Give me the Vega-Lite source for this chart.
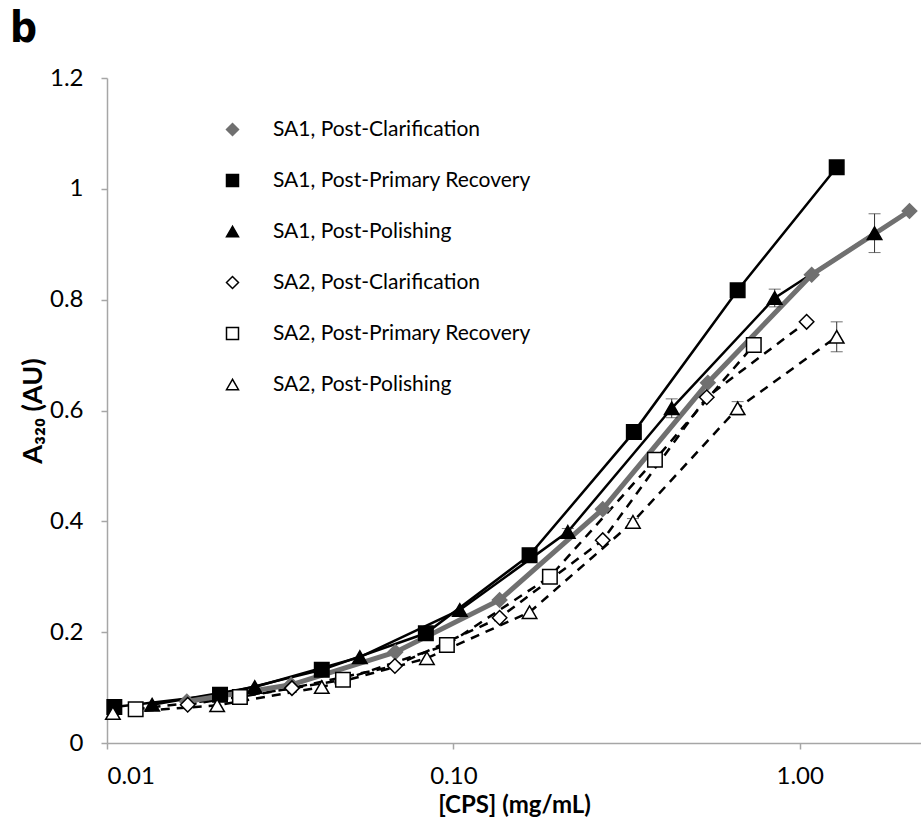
{
  "$schema": "https://vega.github.io/schema/vega-lite/v6.json",
  "autosize": {"type": "none"},
  "width": 814,
  "height": 665,
  "padding": {"left": 107, "top": 78, "right": 0, "bottom": 91},
  "background": "white",
  "title": {"text": "b", "anchor": "start", "frame": "group", "font": "Liberation Sans Narrow, DejaVu Sans Condensed, DejaVu Sans", "fontSize": 42, "fontWeight": "bold", "color": "black", "dx": -97, "offset": 15},
  "config": {
    "view": {"stroke": null},
    "axis": {"domainColor": "#a6a6a6", "domainWidth": 1.5, "tickColor": "#a6a6a6", "tickWidth": 1.5, "tickSize": 6, "grid": false, "labelFont": "Lato", "labelFontSize": 24, "labelColor": "black", "titleFont": "Lato", "titleFontSize": 24, "titleFontWeight": "bold", "titleColor": "black"},
    "legend": {"labelFont": "Lato", "labelFontSize": 21, "labelColor": "black", "labelLimit": 0, "symbolSize": 144, "rowPadding": 29, "labelOffset": 30, "padding": 0}
  },
  "data": {"values": [
    {"series": "SA1, Post-Clarification", "cps": 0.017, "a320": 0.075, "err": 0},
    {"series": "SA1, Post-Clarification", "cps": 0.034, "a320": 0.105, "err": 0},
    {"series": "SA1, Post-Clarification", "cps": 0.068, "a320": 0.164, "err": 0},
    {"series": "SA1, Post-Clarification", "cps": 0.136, "a320": 0.258, "err": 0},
    {"series": "SA1, Post-Clarification", "cps": 0.27, "a320": 0.422, "err": 0},
    {"series": "SA1, Post-Clarification", "cps": 0.543, "a320": 0.65, "err": 0},
    {"series": "SA1, Post-Clarification", "cps": 1.083, "a320": 0.845, "err": 0},
    {"series": "SA1, Post-Clarification", "cps": 2.075, "a320": 0.96, "err": 0},
    {"series": "SA1, Post-Primary Recovery", "cps": 0.0105, "a320": 0.065, "err": 0},
    {"series": "SA1, Post-Primary Recovery", "cps": 0.0212, "a320": 0.087, "err": 0},
    {"series": "SA1, Post-Primary Recovery", "cps": 0.0417, "a320": 0.132, "err": 0},
    {"series": "SA1, Post-Primary Recovery", "cps": 0.0833, "a320": 0.198, "err": 0},
    {"series": "SA1, Post-Primary Recovery", "cps": 0.166, "a320": 0.339, "err": 0},
    {"series": "SA1, Post-Primary Recovery", "cps": 0.332, "a320": 0.561, "err": 0},
    {"series": "SA1, Post-Primary Recovery", "cps": 0.662, "a320": 0.817, "err": 0},
    {"series": "SA1, Post-Primary Recovery", "cps": 1.279, "a320": 1.039, "err": 0},
    {"series": "SA1, Post-Polishing", "cps": 0.0135, "a320": 0.069, "err": 0},
    {"series": "SA1, Post-Polishing", "cps": 0.0267, "a320": 0.101, "err": 0},
    {"series": "SA1, Post-Polishing", "cps": 0.0537, "a320": 0.155, "err": 0},
    {"series": "SA1, Post-Polishing", "cps": 0.1044, "a320": 0.24, "err": 0},
    {"series": "SA1, Post-Polishing", "cps": 0.214, "a320": 0.381, "err": 0.006},
    {"series": "SA1, Post-Polishing", "cps": 0.427, "a320": 0.604, "err": 0.017},
    {"series": "SA1, Post-Polishing", "cps": 0.847, "a320": 0.803, "err": 0.016},
    {"series": "SA1, Post-Polishing", "cps": 1.645, "a320": 0.92, "err": 0.035},
    {"series": "SA2, Post-Clarification", "cps": 0.0171, "a320": 0.069, "err": 0},
    {"series": "SA2, Post-Clarification", "cps": 0.0342, "a320": 0.099, "err": 0},
    {"series": "SA2, Post-Clarification", "cps": 0.0678, "a320": 0.139, "err": 0},
    {"series": "SA2, Post-Clarification", "cps": 0.136, "a320": 0.226, "err": 0},
    {"series": "SA2, Post-Clarification", "cps": 0.27, "a320": 0.366, "err": 0},
    {"series": "SA2, Post-Clarification", "cps": 0.539, "a320": 0.624, "err": 0},
    {"series": "SA2, Post-Clarification", "cps": 1.047, "a320": 0.76, "err": 0},
    {"series": "SA2, Post-Primary Recovery", "cps": 0.0121, "a320": 0.061, "err": 0},
    {"series": "SA2, Post-Primary Recovery", "cps": 0.0242, "a320": 0.083, "err": 0},
    {"series": "SA2, Post-Primary Recovery", "cps": 0.048, "a320": 0.114, "err": 0},
    {"series": "SA2, Post-Primary Recovery", "cps": 0.0958, "a320": 0.177, "err": 0},
    {"series": "SA2, Post-Primary Recovery", "cps": 0.19, "a320": 0.3, "err": 0},
    {"series": "SA2, Post-Primary Recovery", "cps": 0.382, "a320": 0.511, "err": 0},
    {"series": "SA2, Post-Primary Recovery", "cps": 0.737, "a320": 0.718, "err": 0},
    {"series": "SA2, Post-Polishing", "cps": 0.0104, "a320": 0.054, "err": 0},
    {"series": "SA2, Post-Polishing", "cps": 0.0208, "a320": 0.068, "err": 0},
    {"series": "SA2, Post-Polishing", "cps": 0.0417, "a320": 0.101, "err": 0},
    {"series": "SA2, Post-Polishing", "cps": 0.0839, "a320": 0.153, "err": 0},
    {"series": "SA2, Post-Polishing", "cps": 0.166, "a320": 0.236, "err": 0},
    {"series": "SA2, Post-Polishing", "cps": 0.33, "a320": 0.399, "err": 0.006},
    {"series": "SA2, Post-Polishing", "cps": 0.662, "a320": 0.604, "err": 0.012},
    {"series": "SA2, Post-Polishing", "cps": 1.279, "a320": 0.733, "err": 0.027}
  ]},
  "encoding": {
    "x": {"field": "cps", "type": "quantitative", "scale": {"type": "log", "domain": [0.01, 2.24], "nice": false}, "axis": {"values": [0.01, 0.1, 1], "format": ".2f", "title": "[CPS] (mg/mL)", "labelPadding": 15, "titlePadding": 5}},
    "y": {"field": "a320", "type": "quantitative", "scale": {"domain": [0, 1.2], "nice": false}, "axis": {"values": [0, 0.2, 0.4, 0.6, 0.8, 1, 1.2], "format": "~g", "title": "A₃₂₀ (AU)", "titleFontSize": 27, "labelPadding": 18, "titlePadding": 2}}
  },
  "layer": [
    {
      "transform": [{"filter": "datum.series === 'SA1, Post-Primary Recovery' || datum.series === 'SA1, Post-Polishing'"}],
      "mark": {"type": "line", "strokeWidth": 2.5, "color": "black"},
      "encoding": {"detail": {"field": "series", "type": "nominal"}}
    },
    {
      "transform": [{"filter": "datum.series === 'SA2, Post-Clarification' || datum.series === 'SA2, Post-Primary Recovery' || datum.series === 'SA2, Post-Polishing'"}],
      "mark": {"type": "line", "strokeWidth": 2.5, "color": "black", "strokeDash": [9, 7]},
      "encoding": {"detail": {"field": "series", "type": "nominal"}}
    },
    {
      "transform": [{"filter": "datum.series === 'SA1, Post-Clarification'"}],
      "mark": {"type": "line", "strokeWidth": 5, "color": "#707070"},
      "encoding": {}
    },
    {
      "transform": [{"filter": "datum.err > 0"}],
      "mark": {"type": "errorbar", "color": "#333333", "thickness": 1, "ticks": {"size": 12, "thickness": 1}},
      "encoding": {
        "yError": {"field": "err"},
        "detail": {"field": "series", "type": "nominal"}
      }
    },
    {
      "mark": {"type": "point", "filled": true, "size": 210, "strokeWidth": 1.5, "opacity": 1},
      "encoding": {
        "shape": {"field": "series", "type": "nominal", "scale": {"domain": ["SA1, Post-Clarification", "SA1, Post-Primary Recovery", "SA1, Post-Polishing", "SA2, Post-Clarification", "SA2, Post-Primary Recovery", "SA2, Post-Polishing"], "range": ["diamond", "square", "triangle-up", "diamond", "square", "triangle-up"]},
          "legend": {"title": null, "orient": "none", "legendX": 115, "legendY": 41,
            "encode": {"symbols": {
              "shape": {"value": {"expr": "['M-5.7,0L5.7,0M0,-1L1,0L0,1L-1,0Z','M-5.7,0L-1.1,0M1.1,0L5.7,0M-1.1,-1.1L1.1,-1.1L1.1,1.1L-1.1,1.1Z','M-5.7,0L5.7,0M0,-1.2L1.1,0.9L-1.1,0.9Z','M-5.6,0L-3.1,0M3.6,0L5.7,0M0.25,-0.85L1.1,0L0.25,0.85L-0.6,0Z','M-5.6,0L-3.1,0M3.6,0L5.7,0M-0.85,-1L1.25,-1L1.25,1.1L-0.85,1.1Z','M-5.6,0L-3.1,0M3.6,0L5.7,0M0.25,-1L1.25,0.8L-0.75,0.8Z'][datum.index]"}},
              "strokeWidth": {"value": {"expr": "datum.index === 0 ? 4.5 : 2.5"}},
              "opacity": {"value": 1},
              "size": {"value": 144}
            }}
          }},
        "fill": {"field": "series", "type": "nominal", "scale": {"domain": ["SA1, Post-Clarification", "SA1, Post-Primary Recovery", "SA1, Post-Polishing", "SA2, Post-Clarification", "SA2, Post-Primary Recovery", "SA2, Post-Polishing"], "range": ["#707070", "black", "black", "white", "white", "white"]},
          "legend": {"title": null, "orient": "none", "legendX": 115, "legendY": 41,
            "encode": {"symbols": {
              "shape": {"value": {"expr": "['M-5.7,0L5.7,0M0,-1L1,0L0,1L-1,0Z','M-5.7,0L-1.1,0M1.1,0L5.7,0M-1.1,-1.1L1.1,-1.1L1.1,1.1L-1.1,1.1Z','M-5.7,0L5.7,0M0,-1.2L1.1,0.9L-1.1,0.9Z','M-5.6,0L-3.1,0M3.6,0L5.7,0M0.25,-0.85L1.1,0L0.25,0.85L-0.6,0Z','M-5.6,0L-3.1,0M3.6,0L5.7,0M-0.85,-1L1.25,-1L1.25,1.1L-0.85,1.1Z','M-5.6,0L-3.1,0M3.6,0L5.7,0M0.25,-1L1.25,0.8L-0.75,0.8Z'][datum.index]"}},
              "strokeWidth": {"value": {"expr": "datum.index === 0 ? 4.5 : 2.5"}},
              "opacity": {"value": 1},
              "size": {"value": 144}
            }}
          }},
        "stroke": {"field": "series", "type": "nominal", "scale": {"domain": ["SA1, Post-Clarification", "SA1, Post-Primary Recovery", "SA1, Post-Polishing", "SA2, Post-Clarification", "SA2, Post-Primary Recovery", "SA2, Post-Polishing"], "range": ["#707070", "black", "black", "black", "black", "black"]},
          "legend": {"title": null, "orient": "none", "legendX": 115, "legendY": 41,
            "encode": {"symbols": {
              "shape": {"value": {"expr": "['M-5.7,0L5.7,0M0,-1L1,0L0,1L-1,0Z','M-5.7,0L-1.1,0M1.1,0L5.7,0M-1.1,-1.1L1.1,-1.1L1.1,1.1L-1.1,1.1Z','M-5.7,0L5.7,0M0,-1.2L1.1,0.9L-1.1,0.9Z','M-5.6,0L-3.1,0M3.6,0L5.7,0M0.25,-0.85L1.1,0L0.25,0.85L-0.6,0Z','M-5.6,0L-3.1,0M3.6,0L5.7,0M-0.85,-1L1.25,-1L1.25,1.1L-0.85,1.1Z','M-5.6,0L-3.1,0M3.6,0L5.7,0M0.25,-1L1.25,0.8L-0.75,0.8Z'][datum.index]"}},
              "strokeWidth": {"value": {"expr": "datum.index === 0 ? 4.5 : 2.5"}},
              "opacity": {"value": 1},
              "size": {"value": 144}
            }}
          }}
      }
    }
  ]
}
